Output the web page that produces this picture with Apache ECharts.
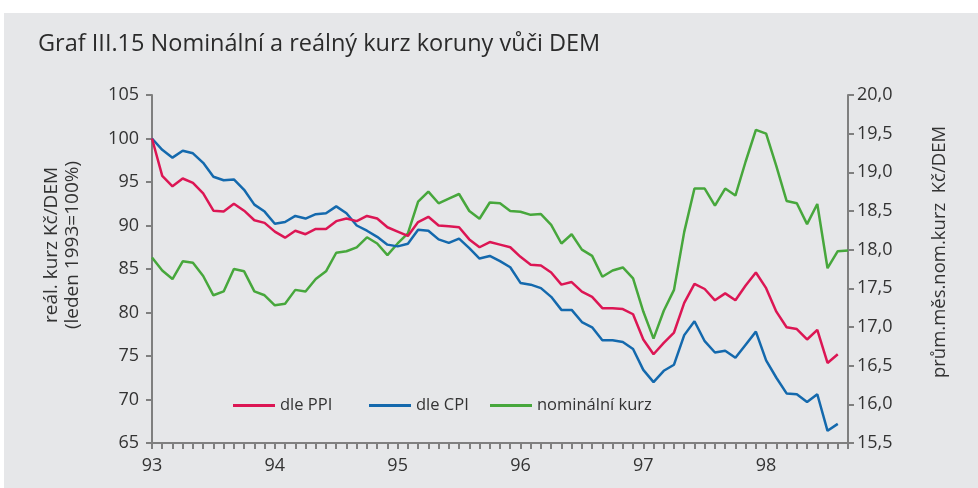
<!DOCTYPE html>
<html>
<head>
<meta charset="utf-8">
<script src="https://cdn.jsdelivr.net/npm/echarts@6/dist/echarts.min.js"></script>
<style>
html,body{margin:0;padding:0;background:#ffffff;}
#chart{width:978px;height:488px;}
</style>
</head>
<body>
<div id="chart"></div>
<script>
var titleText = 'Graf III.15 Nominální a reálný kurz koruny vůči DEM';
var years = ['93','94','95','96','97','98'];
var monthsInLastYear = 9;
var seriesNames = ['dle PPI','dle CPI','nominální kurz'];
var leftAxisName1 = 'reál. kurz Kč/DEM';
var leftAxisName2 = '(leden 1993=100%)';
var rightAxisName = 'prům.měs.nom.kurz  Kč/DEM';

var ppi = [100.0,95.7,94.5,95.4,94.9,93.7,91.7,91.6,92.5,91.7,90.6,90.3,
           89.3,88.6,89.4,89.0,89.6,89.6,90.5,90.8,90.5,91.1,90.8,89.8,
           89.3,88.8,90.4,91.0,90.0,89.9,89.8,88.4,87.5,88.1,87.8,87.5,
           86.4,85.5,85.4,84.6,83.2,83.5,82.4,81.8,80.5,80.5,80.4,79.8,
           76.9,75.2,76.5,77.7,81.1,83.3,82.7,81.4,82.2,81.4,83.1,84.6,
           82.8,80.1,78.3,78.1,76.9,78.0,74.2,75.2,null];
var cpi = [100.0,98.7,97.8,98.6,98.3,97.2,95.6,95.2,95.3,94.1,92.4,91.6,
           90.2,90.4,91.1,90.8,91.3,91.4,92.2,91.4,90.0,89.4,88.7,87.8,
           87.6,87.9,89.5,89.4,88.4,88.0,88.5,87.4,86.2,86.5,85.9,85.2,
           83.4,83.2,82.8,81.8,80.3,80.3,78.9,78.3,76.8,76.8,76.6,75.8,
           73.4,72.0,73.3,74.0,77.4,79.0,76.7,75.4,75.6,74.8,76.3,77.8,
           74.5,72.5,70.7,70.6,69.7,70.6,66.4,67.2,null];
var nominal = [17.90,17.73,17.62,17.85,17.83,17.66,17.41,17.46,17.75,17.72,17.46,17.41,
               17.28,17.30,17.48,17.46,17.62,17.72,17.96,17.98,18.03,18.16,18.08,17.93,
               18.08,18.21,18.62,18.75,18.60,18.66,18.72,18.50,18.40,18.61,18.60,18.50,
               18.49,18.45,18.46,18.32,18.08,18.20,18.00,17.92,17.65,17.73,17.77,17.63,
               17.20,16.85,17.21,17.48,18.23,18.79,18.79,18.57,18.79,18.70,19.14,19.55,
               19.50,19.08,18.63,18.60,18.33,18.59,17.76,17.98,17.99];

var categories = [];
years.forEach(function(y, yi){
  var n = (yi === years.length - 1) ? monthsInLastYear : 12;
  for (var m = 1; m <= n; m++) categories.push(m === 1 ? y : y + '-' + (m < 10 ? '0' + m : m));
});

var FONT = 'Open Sans';
var axisGray = '#7f7f7f';
var txt = '#333333';
var cols = ['#dc1654','#1469ad','#47a73c'];
var legendLefts = [233, 369, 490];

function legendFor(i){
  return {
    data:[seriesNames[i]], left:legendLefts[i], top:397, padding:0,
    itemWidth:42, itemHeight:3, icon:'rect',
    textStyle:{fontFamily:FONT, fontSize:16.5, color:txt}
  };
}

var chart = echarts.init(document.getElementById('chart'), null, {renderer:'canvas'});
chart.setOption({
  animation:false,
  backgroundColor:'#ffffff',
  textStyle:{fontFamily:FONT},
  title:{
    text:titleText, left:33, top:27,
    textStyle:{fontFamily:FONT, fontSize:23.5, fontWeight:'normal', color:'#2b2b2b'}
  },
  graphic:[
    {type:'rect', z:-10, silent:true, shape:{x:4, y:13, width:978, height:488},
     style:{fill:'#e6e7e9'}},
    {type:'text', x:52, y:245, rotation:Math.PI/2, z:10, silent:true,
     style:{text:leftAxisName1, font:'19px ' + FONT, fill:txt, align:'center', verticalAlign:'middle'}},
    {type:'text', x:73, y:245, rotation:Math.PI/2, z:10, silent:true,
     style:{text:leftAxisName2, font:'19px ' + FONT, fill:txt, align:'center', verticalAlign:'middle'}},
    {type:'text', x:940, y:252, rotation:Math.PI/2, z:10, silent:true,
     style:{text:rightAxisName, font:'18.5px ' + FONT, fill:txt, align:'center', verticalAlign:'middle'}}
  ],
  legend:[legendFor(0), legendFor(1), legendFor(2)],
  grid:{left:152, right:130, top:95, bottom:45, containLabel:false},
  xAxis:{
    type:'category', data:categories, boundaryGap:false,
    axisLine:{lineStyle:{color:axisGray, width:2}},
    axisTick:{show:true, interval:0, length:6, lineStyle:{color:axisGray, width:2}},
    axisLabel:{interval:function(i){return i % 12 === 0;}, formatter:function(v){return v.length === 2 ? v : '';},
      fontFamily:FONT, fontSize:18, color:txt, margin:14},
    splitLine:{show:false}
  },
  yAxis:[
    {type:'value', min:65, max:105, interval:5, position:'left',
     axisLine:{show:true, lineStyle:{color:axisGray, width:2}},
     axisTick:{show:true, length:6, lineStyle:{color:axisGray, width:2}},
     axisLabel:{fontFamily:FONT, fontSize:18, color:txt, margin:13},
     splitLine:{show:false}},
    {type:'value', min:15.5, max:20, interval:0.5, position:'right',
     axisLine:{show:true, lineStyle:{color:axisGray, width:2}},
     axisTick:{show:true, length:6, lineStyle:{color:axisGray, width:2}},
     axisLabel:{fontFamily:FONT, fontSize:18, color:txt, margin:9,
       formatter:function(v){return v.toFixed(1).replace('.', ',');}},
     splitLine:{show:false}}
  ],
  series:[
    {name:seriesNames[0], type:'line', data:ppi, yAxisIndex:0, showSymbol:false, symbol:'none',
     lineStyle:{color:cols[0], width:2.5}, itemStyle:{color:cols[0]}, z:3},
    {name:seriesNames[1], type:'line', data:cpi, yAxisIndex:0, showSymbol:false, symbol:'none',
     lineStyle:{color:cols[1], width:2.5}, itemStyle:{color:cols[1]}, z:2},
    {name:seriesNames[2], type:'line', data:nominal, yAxisIndex:1, showSymbol:false, symbol:'none',
     lineStyle:{color:cols[2], width:2.5}, itemStyle:{color:cols[2]}, z:1}
  ]
});
</script>
</body>
</html>
